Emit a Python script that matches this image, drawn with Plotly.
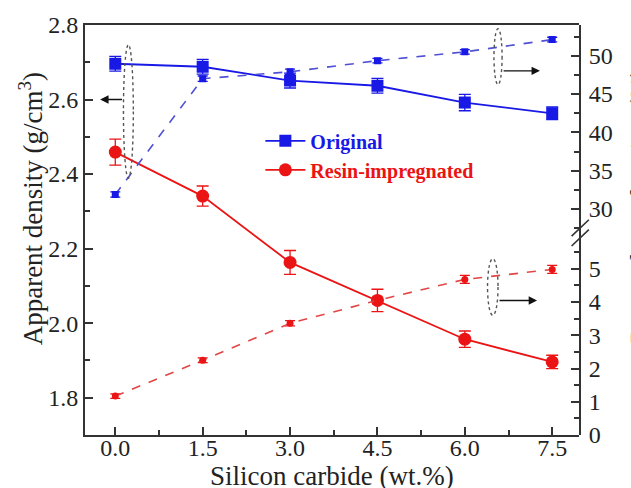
import plotly.graph_objects as go

# ---- data ----
sic = [0.0, 1.5, 3.0, 4.5, 6.0, 7.5]
dens_orig = [2.696, 2.688, 2.651, 2.637, 2.592, 2.563]
dens_orig_err = [0.020, 0.020, 0.020, 0.020, 0.022, 0.017]
dens_resin = [2.459, 2.341, 2.163, 2.061, 1.957, 1.896]
dens_resin_err = [0.035, 0.027, 0.032, 0.030, 0.022, 0.018]
por_orig = [31.9, 47.0, 47.9, 49.35, 50.5, 52.1]
por_orig_err = [0.35, 0.35, 0.35, 0.3, 0.3, 0.3]
por_resin = [1.17, 2.25, 3.36, 4.05, 4.68, 4.98]
por_resin_err = [0.07, 0.07, 0.08, 0.12, 0.12, 0.12]
x_ticks = [0.0, 1.5, 3.0, 4.5, 6.0, 7.5]
por_low_ticks = [0, 1, 2, 3, 4, 5]
por_high_ticks = [30, 35, 40, 45, 50]

BLUE = "rgb(25,25,230)"
BLUE_D = "rgb(80,80,215)"
RED = "rgb(235,20,20)"
RED_D = "rgb(225,70,70)"
AX = "#333333"
FONT = "Liberation Serif"
TXT = "#222222"

fig = go.Figure()

# porosity (dashed, right axes)
fig.add_trace(go.Scatter(
    x=sic, y=por_orig, xaxis="x2", yaxis="y3", mode="lines+markers",
    line=dict(color=BLUE_D, width=1.6, dash="dash"),
    marker=dict(symbol="square", size=7, color=BLUE),
    error_y=dict(type="data", array=por_orig_err, color=BLUE, thickness=1.3, width=5),
    showlegend=False))
fig.add_trace(go.Scatter(
    x=sic, y=por_resin, xaxis="x2", yaxis="y2", mode="lines+markers",
    line=dict(color=RED_D, width=1.6, dash="dash"),
    marker=dict(symbol="circle", size=7, color=RED),
    error_y=dict(type="data", array=por_resin_err, color=RED, thickness=1.3, width=5),
    showlegend=False))

# density (solid, left axis)
fig.add_trace(go.Scatter(
    x=sic, y=dens_orig, mode="lines+markers",
    name="<span style='color:rgb(25,25,230)'><b>Original</b></span>",
    line=dict(color=BLUE, width=1.8),
    marker=dict(symbol="square", size=12, color=BLUE),
    error_y=dict(type="data", array=dens_orig_err, color=BLUE, thickness=1.3, width=6)))
fig.add_trace(go.Scatter(
    x=sic, y=dens_resin, mode="lines+markers",
    name="<span style='color:rgb(235,20,20)'><b>Resin-impregnated</b></span>",
    line=dict(color=RED, width=1.8),
    marker=dict(symbol="circle", size=13, color=RED),
    error_y=dict(type="data", array=dens_resin_err, color=RED, thickness=1.3, width=6)))

XR = [-0.52, 7.96]
split = 0.493
common = dict(showgrid=False, zeroline=False, showline=True, linecolor=AX, linewidth=2,
              ticks="inside", ticklen=8, tickwidth=1.5, tickcolor=AX,
              tickfont=dict(family=FONT, size=24, color=TXT))
minor_style = dict(ticks="inside", ticklen=5, tickcolor=AX, tickwidth=1.5)

fig.update_layout(
    width=631, height=488,
    margin=dict(l=85, r=52, t=23, b=53),
    paper_bgcolor="white", plot_bgcolor="rgba(0,0,0,0)",
    font=dict(family=FONT, color=TXT),
    xaxis=dict(domain=[0, 1], range=XR, tickvals=x_ticks, tickformat=".1f",
               mirror=True, ticklabelstandoff=-10,
               minor=dict(dtick=0.75, tick0=0, **minor_style),
               **common),
    xaxis2=dict(domain=[0, 1], range=XR, visible=False, anchor="y2"),
    yaxis=dict(domain=[0, 1], range=[1.7, 2.8], tick0=1.8, dtick=0.2, tickformat=".1f",
               minor=dict(dtick=0.1, tick0=1.8, **minor_style),
               **common),
    yaxis2=dict(domain=[0, split], range=[0, 6.08], anchor="x2", side="right",
                tickvals=por_low_ticks, ticklabelstandoff=3,
                minor=dict(tickvals=[t + 0.5 for t in por_low_ticks], **minor_style),
                **common),
    yaxis3=dict(domain=[split, 1], range=[26.9, 54], anchor="x2", side="right",
                tickvals=por_high_ticks, ticklabelstandoff=3,
                minor=dict(dtick=2.5, tick0=30, **minor_style),
                **common),
    legend=dict(x=0.355, y=0.765, xanchor="left", yanchor="top", bgcolor="rgba(0,0,0,0)",
                font=dict(family=FONT, size=20), tracegroupgap=0, itemwidth=40),
)

# axis titles
fig.add_annotation(xref="paper", yref="paper", x=0.5, y=-0.1, text="Silicon carbide (wt.%)",
                   showarrow=False, xanchor="center", yanchor="middle",
                   font=dict(family=FONT, size=27, color=TXT))
fig.add_annotation(xref="paper", yref="paper", x=-0.11, y=0.552,
                   text="Apparent density (g/cm<sup>3</sup>)",
                   textangle=-90, showarrow=False, xanchor="center", yanchor="middle",
                   font=dict(family=FONT, size=27, color=TXT))
# right axis title (mostly cut off by the page edge, as in the reference)
fig.add_annotation(xref="paper", yref="paper", x=1.125, y=0.56, text="Pore volume fraction (%)",
                   textangle=-90, showarrow=False, xanchor="center", yanchor="middle",
                   font=dict(family=FONT, size=27, color=TXT))

# axis break marks
for dy in (-0.012, 0.012):
    fig.add_shape(type="line", xref="paper", yref="paper",
                  x0=0.985, x1=1.02, y0=split - 0.02 + dy, y1=split + 0.02 + dy,
                  line=dict(color=AX, width=1.6))

# dotted ellipses and arrows
ell = dict(type="circle", xref="x", yref="y", line=dict(color="#555", width=1.4, dash="dot"))
fig.add_shape(x0=0.14, x1=0.31, y0=2.389, y1=2.747, **ell)
fig.add_shape(x0=6.50, x1=6.64, y0=2.64, y1=2.79, **ell)
fig.add_shape(x0=6.39, x1=6.57, y0=2.021, y1=2.173, **ell)

arr = dict(xref="x", yref="y", axref="x", ayref="y", text="", showarrow=True,
           arrowhead=2, arrowsize=1.2, arrowwidth=1.4, arrowcolor="#111")
fig.add_annotation(x=-0.26, y=2.6, ax=0.14, ay=2.6, **arr)
fig.add_annotation(x=7.29, y=2.677, ax=6.64, ay=2.677, **arr)
fig.add_annotation(x=7.24, y=2.061, ax=6.57, ay=2.061, **arr)

fig.write_html("out.html")
